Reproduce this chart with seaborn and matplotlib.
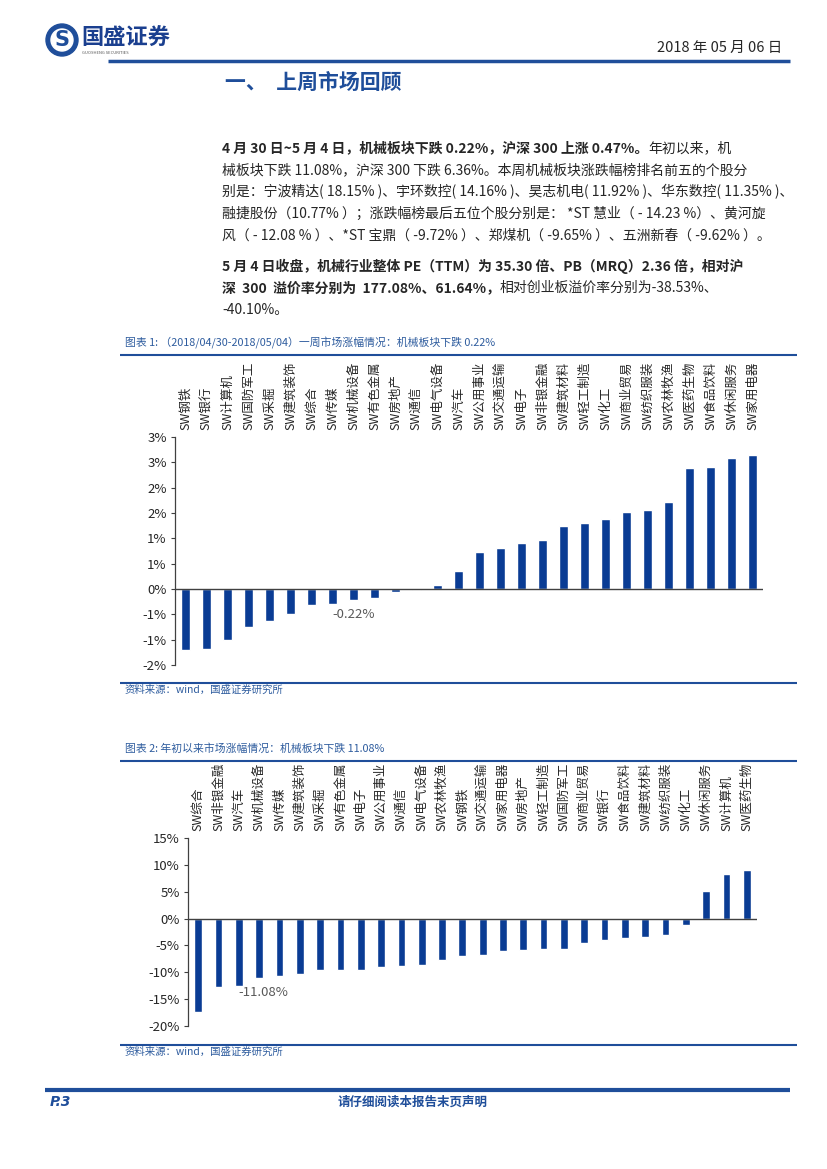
import matplotlib
matplotlib.use('Agg')
import matplotlib.pyplot as plt
import seaborn as sns
from matplotlib.patches import Circle

# 图表1: 一周涨跌幅 (%)
week_labels = ['SW钢铁', 'SW银行', 'SW计算机', 'SW国防军工', 'SW采掘', 'SW建筑装饰', 'SW综合',
               'SW传媒', 'SW机械设备', 'SW有色金属', 'SW房地产', 'SW通信', 'SW电气设备', 'SW汽车',
               'SW公用事业', 'SW交通运输', 'SW电子', 'SW非银金融', 'SW建筑材料', 'SW轻工制造',
               'SW化工', 'SW商业贸易', 'SW纺织服装', 'SW农林牧渔', 'SW医药生物', 'SW食品饮料',
               'SW休闲服务', 'SW家用电器']
week_values = [-1.21, -1.18, -1.00, -0.75, -0.64, -0.49, -0.32, -0.29, -0.22, -0.17, -0.06, -0.01,
               0.07, 0.35, 0.74, 0.81, 0.90, 0.96, 1.24, 1.31, 1.39, 1.51, 1.56, 1.72,
               2.38, 2.40, 2.58, 2.64]
week_ticks = [-1.5, -1.0, -0.5, 0.0, 0.5, 1.0, 1.5, 2.0, 2.5, 3.0]
week_tick_labels = ['-2%', '-1%', '-1%', '0%', '1%', '1%', '2%', '2%', '3%', '3%']

# 图表2: 年初以来涨跌幅 (%)
ytd_labels = ['SW综合', 'SW非银金融', 'SW汽车', 'SW机械设备', 'SW传媒', 'SW建筑装饰', 'SW采掘',
              'SW有色金属', 'SW电子', 'SW公用事业', 'SW通信', 'SW电气设备', 'SW农林牧渔', 'SW钢铁',
              'SW交通运输', 'SW家用电器', 'SW房地产', 'SW轻工制造', 'SW国防军工', 'SW商业贸易',
              'SW银行', 'SW食品饮料', 'SW建筑材料', 'SW纺织服装', 'SW化工', 'SW休闲服务',
              'SW计算机', 'SW医药生物']
ytd_values = [-17.4, -12.8, -12.6, -11.08, -10.6, -10.3, -9.6, -9.6, -9.55, -9.06, -8.75, -8.56,
              -7.75, -6.9, -6.8, -6.06, -5.8, -5.6, -5.6, -4.6, -3.9, -3.6, -3.4, -3.06,
              -1.25, 5.2, 8.25, 9.1]
ytd_ticks = [-20, -15, -10, -5, 0, 5, 10, 15]
ytd_tick_labels = ['-20%', '-15%', '-10%', '-5%', '0%', '5%', '10%', '15%']

BAR = '#0A3C94'
BLUE = '#1F4E9A'
AXIS = '#404040'

sns.set_theme(style='white')
plt.rcParams['font.family'] = ['Noto Sans CJK SC', 'DejaVu Sans']

W, H = 827, 1169
fig = plt.figure(figsize=(8.27, 11.69), dpi=100)
bg = fig.add_axes([0, 0, 1, 1])
bg.set_xlim(0, W)
bg.set_ylim(H, 0)
bg.axis('off')


def axes_px(l, t, r, b):
    return fig.add_axes([l / W, 1 - b / H, (r - l) / W, (b - t) / H])


def hline(x0, x1, y, lw=1.5, color=BLUE):
    bg.plot([x0, x1], [y, y], color=color, lw=lw, solid_capstyle='butt')


# 页眉
bg.add_patch(Circle((62, 40), 16, color=BLUE))
bg.add_patch(Circle((62, 40), 11, color='white'))
bg.text(62, 40, 'S', color=BLUE, fontsize=15, fontweight='bold', ha='center', va='center',
        family='DejaVu Sans')
bg.text(81, 38, '国盛证券', fontsize=16, fontweight='bold', color='#1A3F8F', va='center')
bg.text(82, 53, 'GUOSHENG SECURITIES', fontsize=3, color='#555555', va='center')
bg.text(782, 48, '2018 年 05 月 06 日', fontsize=10.5, ha='right', va='center')
hline(108, 790, 61, lw=2.5)
bg.text(225, 82, '一、  上周市场回顾', fontsize=15, fontweight='bold', color=BLUE, va='center')

# 正文
FS = 10
para = [
    (148, '4 月 30 日~5 月 4 日，机械板块下跌 0.22%，沪深 300 上涨 0.47%。', '年初以来，机'),
    (170, '', '械板块下跌 11.08%，沪深 300 下跌 6.36%。本周机械板块涨跌幅榜排名前五的个股分'),
    (192, '', '别是：宁波精达( 18.15% )、宇环数控( 14.16% )、昊志机电( 11.92% )、华东数控( 11.35% )、'),
    (214, '', '融捷股份（10.77% ）；涨跌幅榜最后五位个股分别是： *ST 慧业（ - 14.23 %）、黄河旋'),
    (236, '', '风（ - 12.08 % ）、*ST 宝鼎（ -9.72% ）、郑煤机（ -9.65% ）、五洲新春（ -9.62% ）。'),
    (266, '5 月 4 日收盘，机械行业整体 PE（TTM）为 35.30 倍、PB（MRQ）2.36 倍，相对沪', ''),
    (288, '深  300  溢价率分别为  177.08%、61.64%，', '相对创业板溢价率分别为-38.53%、'),
    (310, '', '-40.10%。'),
]
for y, bold, normal in para:
    if bold:
        t = bg.text(222, y, bold, fontsize=FS, fontweight='bold', va='center')
        if normal:
            bg.annotate(normal, xy=(1, 0.5), xycoords=t, fontsize=FS, va='center')
    else:
        bg.text(222, y, normal, fontsize=FS, va='center')


def draw_chart(top_title_y, title, src_y, box, labels, values, ticks, tick_labels,
               ylim, width, note, note_xy):
    bg.text(125, top_title_y, title, fontsize=7.8, color='#2E5C9E', va='center', style='italic')
    hline(120, 797, top_title_y + 12, lw=1.5)
    hline(120, 797, src_y - 7, lw=1.5)
    bg.text(125, src_y, '资料来源：wind，国盛证券研究所', fontsize=7.5, color='#2E5C9E',
            va='center', style='italic')

    ax = axes_px(*box)
    sns.barplot(x=labels, y=values, color=BAR, saturation=1, width=width, ax=ax)
    ax.set_xlim(-0.5, len(labels) - 0.5)
    ax.set_ylim(*ylim)
    ax.set_yticks(ticks)
    ax.set_yticklabels(tick_labels)
    ax.axhline(0, color=AXIS, lw=1, zorder=3)
    ax.xaxis.tick_top()
    ax.tick_params(axis='x', length=0, labelrotation=90, pad=5, labelsize=9)
    ax.tick_params(axis='y', left=True, length=3, width=0.8, color=AXIS, labelsize=9.5, pad=3)
    for s in ['top', 'right', 'bottom']:
        ax.spines[s].set_visible(False)
    ax.spines['left'].set_color(AXIS)
    ax.spines['left'].set_linewidth(0.9)
    ax.set_xlabel('')
    ax.set_ylabel('')
    ax.text(note_xy[0], note_xy[1], note, fontsize=9.5, color='#595959', ha='center', va='center')
    return ax


draw_chart(343, '图表 1: （2018/04/30-2018/05/04）一周市场涨幅情况：机械板块下跌 0.22%', 690,
           (175, 437, 763, 665), week_labels, week_values, week_ticks, week_tick_labels,
           (-1.5, 3.0), 0.42, '-0.22%', (8, -0.51))

draw_chart(749, '图表 2: 年初以来市场涨幅情况：机械板块下跌 11.08%', 1052,
           (188, 838, 757, 1026), ytd_labels, ytd_values, ytd_ticks, ytd_tick_labels,
           (-20, 15), 0.38, '-11.08%', (3.2, -13.8))

# 页脚
hline(45, 790, 1090, lw=3)
bg.text(50, 1102, 'P.3', fontsize=10, fontweight='bold', style='italic', color=BLUE, va='center',
        family='DejaVu Sans')
bg.text(413, 1102, '请仔细阅读本报告末页声明', fontsize=9, fontweight='bold', color=BLUE,
        ha='center', va='center')

fig.savefig('out.png', dpi=100)
